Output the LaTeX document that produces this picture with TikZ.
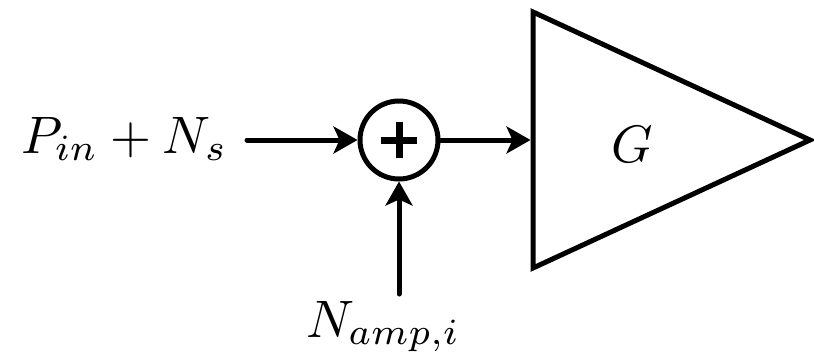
\documentclass[tikz,border=0pt]{standalone}
\usetikzlibrary{arrows.meta}
\begin{document}
\begin{tikzpicture}[x=1pt,y=-1pt,
  wire/.style={line width=5pt,line cap=round,-{Stealth[length=24pt,width=27pt,inset=6pt,line cap=butt,line join=miter]}},
  lbl/.style={inner sep=0pt,scale=5.27},
  sumnode/.style={circle,draw,line width=5pt,minimum size=78pt,inner sep=0pt}]
\useasboundingbox (0,0) rectangle (814,357);
% nodes
\node[sumnode] (sum) at (399,140) {};
\draw[line width=7pt] ([xshift=-18pt]sum.center) -- ([xshift=18pt]sum.center)
  ([yshift=-18pt]sum.center) -- ([yshift=18pt]sum.center);
\coordinate (t1) at (533,12);
\coordinate (t2) at (533,268);
\coordinate (t3) at (810,140);
\draw[line width=5pt,line join=miter] (t1) -- (t3) -- (t2) -- cycle;
\coordinate (ampin) at (530.5,140);
\node[lbl,anchor=base west] (pin) at (20,153) {$P_{in}+N_s$};
\node[lbl,anchor=base] (g) at (632,162) {$G$};
\node[lbl,anchor=base west] (namp) at (305,337) {$N_{amp,i}$};
\coordinate (inL) at (247,140);
\coordinate (inB) at (399,294);
% connectors
\draw[wire] (inL) -- (sum);
\draw[wire] (sum) -- (ampin);
\draw[wire] (inB) -- (sum);
\end{tikzpicture}
\end{document}
